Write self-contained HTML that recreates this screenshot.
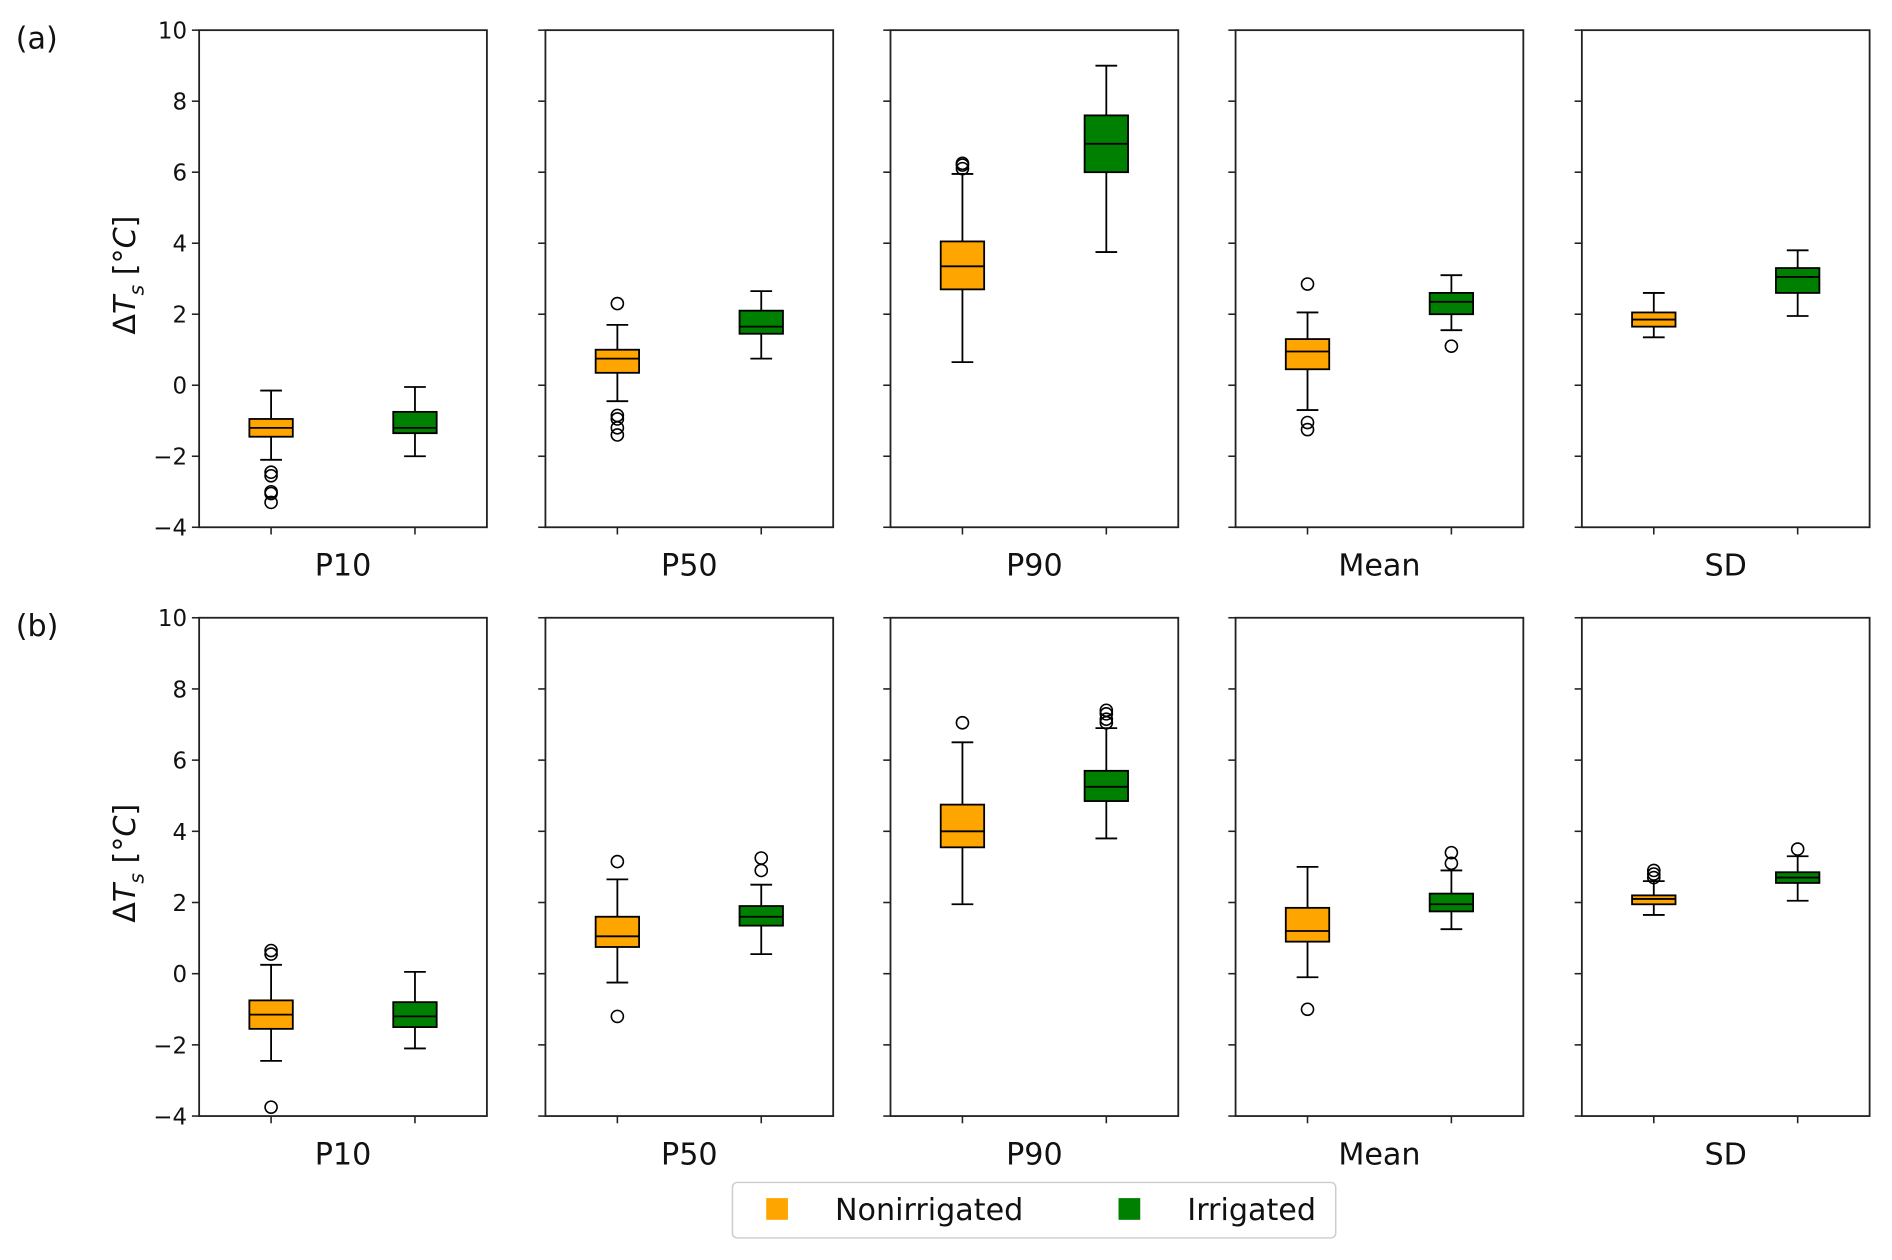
<!DOCTYPE html>
<html><head><meta charset="utf-8"><style>
html,body{margin:0;padding:0;background:#fff}
svg{display:block;font-family:"DejaVu Sans","Liberation Sans",sans-serif}
</style></head><body>
<svg id="chart" width="1892" height="1260" viewBox="0 0 1568 1044.3" xmlns="http://www.w3.org/2000/svg">
<g id="root"></g>
</svg>
<script>
// categories and series: [whiskerLow, q1, median, q3, whiskerHigh]
const categories = ["P10","P50","P90","Mean","SD"];
const yTicks = [-4,-2,0,2,4,6,8,10];
const seriesNames = ["Nonirrigated","Irrigated"];
const rowLabels = ["(a)","(b)"];
const rowA_non = [[-2.1,-1.45,-1.2,-0.95,-0.15],[-0.45,0.35,0.75,1.0,1.7],[0.65,2.7,3.35,4.05,5.95],[-0.7,0.45,0.95,1.3,2.05],[1.35,1.65,1.85,2.05,2.6]];
const rowA_irr = [[-2.0,-1.35,-1.2,-0.75,-0.05],[0.75,1.45,1.65,2.1,2.65],[3.75,6.0,6.8,7.6,9.0],[1.55,2.0,2.35,2.6,3.1],[1.95,2.6,3.05,3.3,3.8]];
const rowA_nonOut = [[-2.45,-2.55,-3.0,-3.05,-3.3],[2.3,-0.85,-0.95,-1.2,-1.4],[6.1,6.2,6.25],[2.85,-1.05,-1.25],[]];
const rowA_irrOut = [[],[],[],[1.1],[]];
const rowB_non = [[-2.45,-1.55,-1.15,-0.75,0.25],[-0.25,0.75,1.05,1.6,2.65],[1.95,3.55,4.0,4.75,6.5],[-0.1,0.9,1.2,1.85,3.0],[1.65,1.95,2.1,2.2,2.6]];
const rowB_irr = [[-2.1,-1.5,-1.2,-0.8,0.05],[0.55,1.35,1.6,1.9,2.5],[3.8,4.85,5.25,5.7,6.9],[1.25,1.75,1.95,2.25,2.9],[2.05,2.55,2.7,2.85,3.3]];
const rowB_nonOut = [[0.55,0.65,-3.75],[3.15,-1.2],[7.05],[-1.0],[2.7,2.8,2.9]];
const rowB_irrOut = [[],[2.9,3.25],[7.05,7.15,7.3,7.4],[3.1,3.4],[3.5]];

const NS="http://www.w3.org/2000/svg";
const root=document.getElementById('root');
const colors=["#FFA500","#008000"];
const panelX=[165,452,738,1024,1311], PW=238.5;
const rows=[{top:25,bot:437,non:rowA_non,irr:rowA_irr,nonO:rowA_nonOut,irrO:rowA_irrOut},
            {top:512,bot:925,non:rowB_non,irr:rowB_irr,nonO:rowB_nonOut,irrO:rowB_irrOut}];
function mk(tag,attrs,parent){const e=document.createElementNS(NS,tag);for(const k in attrs)e.setAttribute(k,attrs[k]);(parent||root).appendChild(e);return e;}
function txt(s,attrs,parent){const e=mk('text',attrs,parent);e.textContent=s;return e;}

rows.forEach((r,ri)=>{
  const y=v=>r.bot-(v-(-4))*(r.bot-r.top)/14;
  const lbl=txt(rowLabels[ri],{x:13,y:r.top+15,'font-size':25,fill:'#111'});
  
  
  const yl=txt('',{transform:`translate(112,${(r.top+r.bot)/2-3}) rotate(-90)`,'text-anchor':'middle','font-size':25,fill:'#111'});
  yl.innerHTML='Δ<tspan font-style="italic">T</tspan><tspan font-size="17" dy="7" font-style="italic">s</tspan><tspan dy="-7"> [°</tspan><tspan font-style="italic">C</tspan><tspan>]</tspan>';
  
  
  categories.forEach((c,ci)=>{
    const x0=panelX[ci];
    const g=mk('g',{});
    
    
    mk('rect',{x:x0,y:r.top,width:PW,height:r.bot-r.top,fill:'none',stroke:'#222','stroke-width':1.5},g);
    yTicks.forEach(t=>{
      mk('line',{x1:x0-6,x2:x0,y1:y(t),y2:y(t),stroke:'#222','stroke-width':1.3},g);
      if(ci===0){const tl=txt(t<0?'\u2212'+(-t):String(t),{x:x0-10,y:y(t)+7,'text-anchor':'end','font-size':19,fill:'#111'},g);
        
        }
    });
    const cl=txt(c,{x:x0+PW/2,y:r.bot+40,'text-anchor':'middle','font-size':25,fill:'#111'},g);
    
    
    [[r.non[ci],r.nonO[ci]],[r.irr[ci],r.irrO[ci]]].forEach((d,si)=>{
      const cx=x0+PW*(si?0.75:0.25), bw=36, s=d[0];
      mk('line',{x1:cx,x2:cx,y1:r.bot,y2:r.bot+6,stroke:'#222','stroke-width':1.3},g);
      const bg=mk('g',{},g);
      
      
      mk('line',{x1:cx,x2:cx,y1:y(s[0]),y2:y(s[1]),stroke:'#000','stroke-width':1.5},bg);
      mk('line',{x1:cx,x2:cx,y1:y(s[3]),y2:y(s[4]),stroke:'#000','stroke-width':1.5},bg);
      mk('line',{x1:cx-bw/4,x2:cx+bw/4,y1:y(s[0]),y2:y(s[0]),stroke:'#000','stroke-width':1.5},bg);
      mk('line',{x1:cx-bw/4,x2:cx+bw/4,y1:y(s[4]),y2:y(s[4]),stroke:'#000','stroke-width':1.5},bg);
      mk('rect',{x:cx-bw/2,y:y(s[3]),width:bw,height:y(s[1])-y(s[3]),fill:colors[si],stroke:'#000','stroke-width':1.5},bg);
      mk('line',{x1:cx-bw/2,x2:cx+bw/2,y1:y(s[2]),y2:y(s[2]),stroke:'#000','stroke-width':1.5},bg);
      d[1].forEach(o=>{const p=mk('circle',{cx:cx,cy:y(o),r:5,fill:'none',stroke:'#000','stroke-width':1.3},bg);
        
        });
    });
  });
});
// legend
const lg=mk('g',{});


mk('rect',{x:607,y:980,width:500,height:46,rx:4,fill:'#fff',stroke:'#ccc','stroke-width':1.2},lg);
[[635,692],[927,984]].forEach((p,i)=>{
  const e=mk('g',{},lg);
  
  
  mk('rect',{x:p[0],y:993,width:18,height:18,fill:colors[i]},e);
  txt(seriesNames[i],{x:p[1],y:1011,'font-size':25,fill:'#111'},e);
});
</script>
</body></html>
